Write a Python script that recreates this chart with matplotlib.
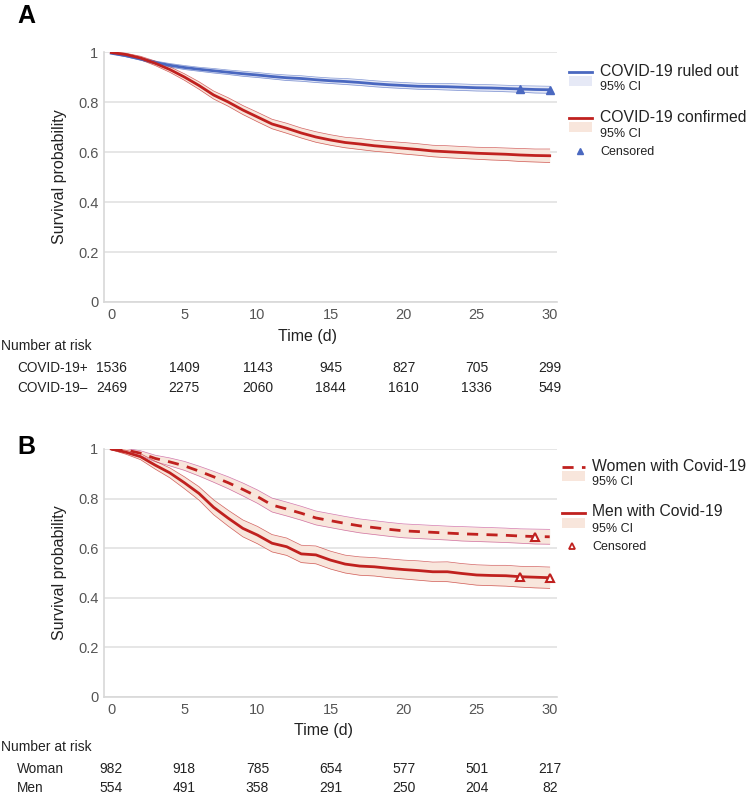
import matplotlib
matplotlib.use("Agg")
import matplotlib.pyplot as plt
from matplotlib.lines import Line2D
from matplotlib.patches import Rectangle
from matplotlib.transforms import blended_transform_factory

plt.rcParams['font.family'] = ['Liberation Sans', 'DejaVu Sans']

days = list(range(31))

# panel A
ruled_out = [0.995, 0.985, 0.972, 0.958, 0.947, 0.938, 0.931, 0.925, 0.919, 0.913, 0.908,
             0.902, 0.897, 0.894, 0.889, 0.885, 0.882, 0.878, 0.873, 0.869, 0.866,
             0.863, 0.862, 0.861, 0.859, 0.857, 0.856, 0.854, 0.852, 0.850, 0.849]
ruled_out_ci = [0.002, 0.004, 0.005, 0.006, 0.007, 0.008, 0.008, 0.009, 0.009, 0.010, 0.010,
                0.010, 0.011, 0.011, 0.011, 0.011, 0.012, 0.012, 0.012, 0.012, 0.012,
                0.012, 0.012, 0.013, 0.013, 0.013, 0.013, 0.013, 0.013, 0.014, 0.014]
confirmed = [0.998, 0.99, 0.976, 0.955, 0.93, 0.90, 0.866, 0.828, 0.80, 0.768, 0.74,
             0.712, 0.695, 0.676, 0.66, 0.648, 0.638, 0.632, 0.625, 0.62, 0.615,
             0.61, 0.604, 0.601, 0.598, 0.595, 0.593, 0.591, 0.588, 0.586, 0.585]
confirmed_ci = [0.002, 0.005, 0.007, 0.009, 0.011, 0.013, 0.015, 0.016, 0.017, 0.018, 0.019,
                0.019, 0.02, 0.02, 0.021, 0.021, 0.021, 0.022, 0.022, 0.022, 0.023,
                0.023, 0.023, 0.024, 0.024, 0.024, 0.025, 0.025, 0.026, 0.026, 0.027]
cens_a_t = [28, 30]
cens_a_y = [0.852, 0.849]

# panel B
women = [1.0, 0.996, 0.983, 0.962, 0.948, 0.932, 0.911, 0.888, 0.864, 0.837, 0.808,
         0.774, 0.758, 0.741, 0.722, 0.711, 0.700, 0.690, 0.683, 0.676, 0.670,
         0.667, 0.664, 0.661, 0.658, 0.656, 0.654, 0.652, 0.649, 0.647, 0.646]
women_ci = [0.003, 0.006, 0.01, 0.013, 0.016, 0.018, 0.02, 0.022, 0.024, 0.026, 0.027,
            0.028, 0.028, 0.028, 0.028, 0.028, 0.028, 0.028, 0.028, 0.028, 0.028,
            0.028, 0.028, 0.028, 0.029, 0.029, 0.029, 0.029, 0.029, 0.030, 0.030]
men = [1.0, 0.987, 0.969, 0.935, 0.904, 0.864, 0.821, 0.765, 0.721, 0.680, 0.653,
       0.620, 0.606, 0.577, 0.573, 0.552, 0.536, 0.528, 0.525, 0.519, 0.514,
       0.510, 0.505, 0.505, 0.498, 0.492, 0.490, 0.489, 0.485, 0.483, 0.481]
men_ci = [0.003, 0.008, 0.012, 0.016, 0.02, 0.024, 0.027, 0.03, 0.032, 0.034, 0.035,
          0.035, 0.035, 0.035, 0.036, 0.036, 0.036, 0.037, 0.037, 0.038, 0.038,
          0.039, 0.039, 0.040, 0.040, 0.041, 0.041, 0.042, 0.042, 0.043, 0.043]
cens_w_t = [29]
cens_w_y = [0.647]
cens_m_t = [28, 30]
cens_m_y = [0.485, 0.481]

risk_times = [0, 5, 10, 15, 20, 25, 30]
risk_a_labels = ["COVID-19+", "COVID-19\u2013"]
risk_a = [[1536, 1409, 1143, 945, 827, 705, 299],
          [2469, 2275, 2060, 1844, 1610, 1336, 549]]
risk_b_labels = ["Woman", "Men"]
risk_b = [[982, 918, 785, 654, 577, 501, 217],
          [554, 491, 358, 291, 250, 204, 82]]

BLUE = "#4a68c0"
BLUE_FILL = "#e6e9f6"
RED = "#c0211f"
RED_FILL = "#f8e6dc"
TXT = "#222222"
DASH = (0, (4, 3))
W, H = 750, 799


def fx(px):
    return px / W


def fy(py):
    return 1 - py / H


def style_axes(ax):
    ax.set_xlim(-0.5, 30.5)
    ax.set_ylim(0, 1.0)
    ax.set_xticks([0, 5, 10, 15, 20, 25, 30])
    ax.set_yticks([0, 0.2, 0.4, 0.6, 0.8, 1.0])
    ax.set_yticklabels(["0", "0.2", "0.4", "0.6", "0.8", "1"])
    ax.grid(axis="y", color="#e2e2e2", lw=1.2)
    ax.set_axisbelow(True)
    for s in ["top", "right"]:
        ax.spines[s].set_visible(False)
    for s in ["left", "bottom"]:
        ax.spines[s].set_color("#d8d8d8")
        ax.spines[s].set_linewidth(1.2)
    ax.tick_params(length=0, labelsize=10.5, labelcolor="#555555", pad=4)
    ax.set_ylabel("Survival probability", fontsize=11.5, color=TXT, labelpad=8)


def band(ax, y, ci, color, fill):
    lo = [a - b for a, b in zip(y, ci)]
    hi = [a + b for a, b in zip(y, ci)]
    ax.fill_between(days, lo, hi, color=fill, lw=0)
    ax.plot(days, lo, color=color, lw=0.5, alpha=0.7)
    ax.plot(days, hi, color=color, lw=0.5, alpha=0.7)


def risk_table(ax, xlabel_px, xlabel_py, top, labels, rows):
    fig.text(fx(xlabel_px), fy(xlabel_py), "Time (d)", fontsize=11.5, color=TXT,
             ha="center", va="center")
    tr = blended_transform_factory(ax.transData, fig.transFigure)
    fig.text(fx(1), fy(top), "Number at risk", fontsize=10, va="center", color=TXT)
    for i, (lab, row) in enumerate(zip(labels, rows)):
        yy = fy(top + 22 + 19.5 * i)
        fig.text(fx(17), yy, lab, fontsize=9.8, va="center", color=TXT)
        for t, n in zip(risk_times, row):
            ax.text(t, yy, str(n), transform=tr, ha="center", va="center",
                    fontsize=10, color=TXT)


def legend_line(px, py, color, ls="-"):
    fig.add_artist(Line2D([fx(px), fx(px + 23)], [fy(py), fy(py)], color=color,
                          lw=2, ls=ls, transform=fig.transFigure))


def legend_patch(px, py, fill):
    fig.add_artist(Rectangle((fx(px), fy(py + 5)), 23 / W, 10 / H, color=fill,
                             lw=0, transform=fig.transFigure))


fig = plt.figure(figsize=(7.5, 7.99), dpi=100)
ax_a = fig.add_axes([fx(104), fy(302), fx(557) - fx(104), fy(52) - fy(302)])
ax_b = fig.add_axes([fx(104), fy(697), fx(557) - fx(104), fy(449) - fy(697)])

# panel A
style_axes(ax_a)
band(ax_a, ruled_out, ruled_out_ci, BLUE, BLUE_FILL)
band(ax_a, confirmed, confirmed_ci, RED, RED_FILL)
ax_a.plot(days, ruled_out, color=BLUE, lw=2)
ax_a.plot(days, confirmed, color=RED, lw=2)
ax_a.plot(cens_a_t, cens_a_y, ls="none", marker="^", ms=6, color=BLUE, clip_on=False)
risk_table(ax_a, 307, 337, 346, risk_a_labels, risk_a)

# panel B
style_axes(ax_b)
band(ax_b, women, women_ci, "#c0408a", RED_FILL)
band(ax_b, men, men_ci, RED, RED_FILL)
ax_b.plot(days, women, color=RED, lw=2, ls=DASH)
ax_b.plot(days, men, color=RED, lw=2)
ax_b.plot(cens_w_t, cens_w_y, ls="none", marker="^", ms=6, mfc="white", mec=RED,
          mew=1.5, clip_on=False)
ax_b.plot(cens_m_t, cens_m_y, ls="none", marker="^", ms=6, mfc="white", mec=RED,
          mew=1.5, clip_on=False)
risk_table(ax_b, 324, 730, 747, risk_b_labels, risk_b)

fig.text(fx(17), fy(16), "A", fontsize=18, fontweight="bold", va="center")
fig.text(fx(17), fy(447), "B", fontsize=18, fontweight="bold", va="center")

# legend A
LEG = 11.3
legend_line(569, 72, BLUE)
fig.text(fx(600), fy(71), "COVID-19 ruled out", fontsize=LEG, va="center", color=TXT)
legend_patch(569, 81, BLUE_FILL)
fig.text(fx(600), fy(87), "95% CI", fontsize=9, va="center", color=TXT)
legend_line(569, 118, RED)
fig.text(fx(600), fy(117), "COVID-19 confirmed", fontsize=LEG, va="center", color=TXT)
legend_patch(569, 127, RED_FILL)
fig.text(fx(600), fy(134), "95% CI", fontsize=9, va="center", color=TXT)
fig.add_artist(Line2D([fx(580)], [fy(151)], marker="^", ms=5, color=BLUE, ls="none",
                      transform=fig.transFigure))
fig.text(fx(600), fy(152), "Censored", fontsize=9, va="center", color=TXT)

# legend B
legend_line(562, 467, RED, ls=DASH)
fig.text(fx(592), fy(466), "Women with Covid-19", fontsize=LEG, va="center", color=TXT)
legend_patch(562, 476, RED_FILL)
fig.text(fx(592), fy(482), "95% CI", fontsize=9, va="center", color=TXT)
legend_line(562, 513, RED)
fig.text(fx(592), fy(512), "Men with Covid-19", fontsize=LEG, va="center", color=TXT)
legend_patch(562, 523, RED_FILL)
fig.text(fx(592), fy(529), "95% CI", fontsize=9, va="center", color=TXT)
fig.add_artist(Line2D([fx(572)], [fy(546)], marker="^", ms=4.5, mfc="white", mec=RED,
                      mew=1.3, ls="none", transform=fig.transFigure))
fig.text(fx(592), fy(547), "Censored", fontsize=9, va="center", color=TXT)

fig.savefig("out.png", dpi=100)
